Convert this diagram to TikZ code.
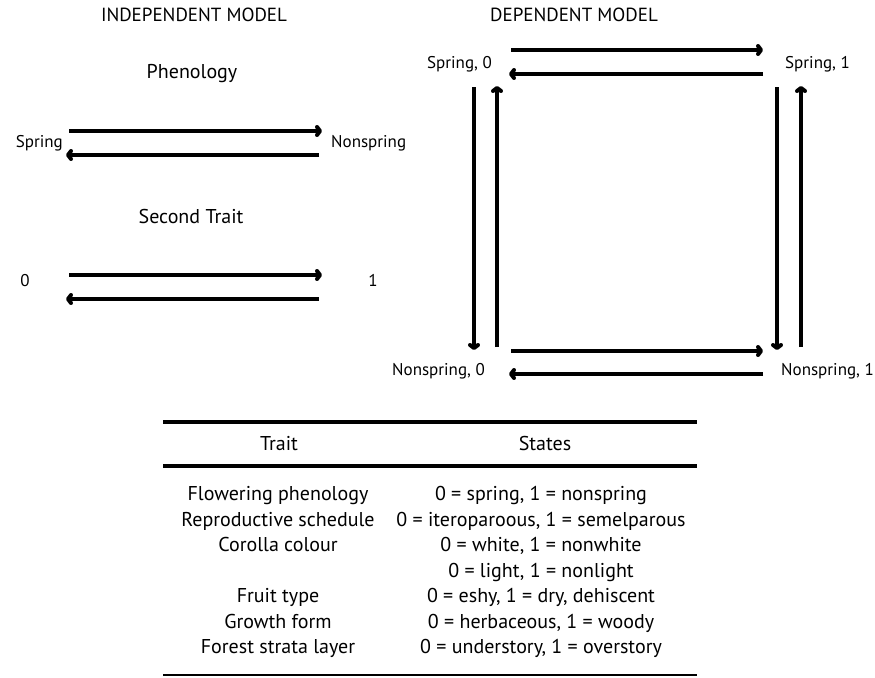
\documentclass[tikz,border=0pt]{standalone}
\usepackage{fontspec}
\setmainfont{PT Sans}
\usetikzlibrary{arrows.meta}
\begin{document}
\begin{tikzpicture}[x=1pt, y=-1pt, font=\fontsize{17}{20}\selectfont,
  lbl/.style={inner sep=0pt, text height=0.7em, text depth=0pt},
  head/.style={lbl, font=\fontsize{19}{22}\selectfont},
  cell/.style={lbl, font=\fontsize{20}{23}\selectfont},
  arr/.style={line width=4pt, -{Straight Barb[length=3pt,width=8pt,line cap=round,line join=round]}},
  thickrule/.style={line width=4pt},
  thinrule/.style={line width=1.5pt}]
\useasboundingbox (0,0) rectangle (875,677);
\node[head] (indep) at (194,18) {INDEPENDENT MODEL};
\node[head] (dep) at (574,18) {DEPENDENT MODEL};
\node[cell] (phen) at (192,75) {Phenology};
\node[lbl, anchor=east] (sp) at (63,144) {Spring};
\node[lbl, anchor=west] (ns) at (331,144) {Nonspring};
\draw[arr] ([shift={(6,-13)}]sp.east) -- ([shift={(-9,-13)}]ns.west);
\draw[arr] ([shift={(-12,11)}]ns.west) -- ([shift={(3,11)}]sp.east);
\node[cell] (second) at (191,220) {Second Trait};
\node[lbl] (z0) at (25,283) {0};
\node[lbl] (z1) at (373,283) {1};
\draw[arr] ([shift={(44,-8)}]z0.center) -- ([shift={(-51,-8)}]z1.center);
\draw[arr] ([shift={(-54,16)}]z1.center) -- ([shift={(41,16)}]z0.center);
% dependent model
\node[lbl, anchor=east] (s0) at (492,65) {Spring, 0};
\node[lbl, anchor=west] (s1) at (785,65) {Spring, 1};
\node[lbl, anchor=east] (n0) at (485,372) {Nonspring, 0};
\node[lbl, anchor=west] (n1) at (781,372) {Nonspring, 1};
\draw[arr] ([shift={(19,-15)}]s0.east) -- ([shift={(-22,-15)}]s1.west);
\draw[arr] ([shift={(-22,9)}]s1.west) -- ([shift={(17,9)}]s0.east);
\draw[arr] ([shift={(26,-21)}]n0.east) -- ([shift={(-18,-21)}]n1.west);
\draw[arr] ([shift={(-18,2)}]n1.west) -- ([shift={(24,2)}]n0.east);
\draw[arr] ([shift={(-18,22)}]s0.east) -- ([shift={(-11,-22)}]n0.east);
\draw[arr] ([shift={(12,-25)}]n0.east) -- ([shift={(5,21)}]s0.east);
\draw[arr] ([shift={(-8,22)}]s1.west) -- ([shift={(-4,-22)}]n1.west);
\draw[arr] ([shift={(20,-25)}]n1.west) -- ([shift={(16,21)}]s1.west);
% table
\draw[thickrule] (163,422) -- (697,422);
\draw[thickrule] (163,466) -- (697,466);
\draw[thinrule] (163,675) -- (697,675);
\node[cell] (trait) at (279,447) {Trait};
\node[cell] (states) at (545,447) {States};
\foreach \i/\t/\s in {1/{Flowering phenology}/{0 = spring, 1 = nonspring},
    2/{Reproductive schedule}/{0 = iteroparoous, 1 = semelparous},
    3/{Corolla colour}/{0 = white, 1 = nonwhite},
    4/{}/{0 = light, 1 = nonlight},
    5/{Fruit type}/{0 = eshy, 1 = dry, dehiscent},
    6/{Growth form}/{0 = herbaceous, 1 = woody},
    7/{Forest strata layer}/{0 = understory, 1 = overstory}} {
  \node[cell] (tr\i) at (278,{497+25.5*(\i-1)}) {\t};
  \node[cell] (st\i) at (541,{497+25.5*(\i-1)}) {\s};
}
\end{tikzpicture}
\end{document}
